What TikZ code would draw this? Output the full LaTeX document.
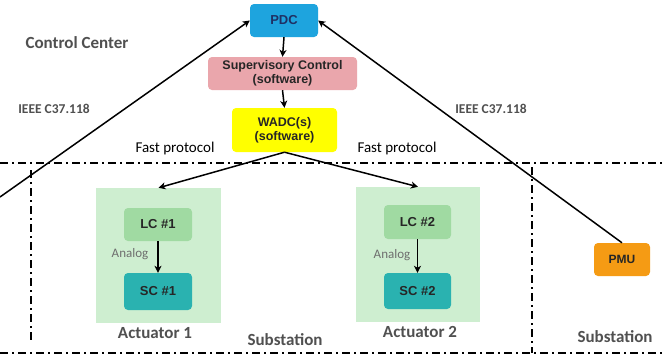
\documentclass[tikz,border=0pt]{standalone}
\usepackage{fontspec}
\setmainfont{Carlito}
\newfontfamily\boxfont{Liberation Sans}
\usetikzlibrary{arrows.meta}
\definecolor{pdcblue}{RGB}{30,164,222}
\definecolor{navy}{RGB}{31,48,100}
\definecolor{suppink}{RGB}{234,166,172}
\definecolor{wadcyel}{RGB}{255,255,0}
\definecolor{actbg}{RGB}{206,238,208}
\definecolor{lcgreen}{RGB}{160,218,162}
\definecolor{scteal}{RGB}{42,178,176}
\definecolor{pmuorange}{RGB}{245,155,20}
\definecolor{labgray}{RGB}{80,80,80}
\definecolor{anagray}{RGB}{110,110,110}
\tikzset{
  boxstyle/.style={rounded corners=4pt, inner sep=0pt, align=center, font=\boxfont\bfseries\fontsize{13}{14}\selectfont, text=black!85},
  conn/.style={line width=1.5pt, -{Stealth[length=7pt,width=7pt,inset=2pt]}},
  dashdot/.style={line width=1.4pt, dash pattern=on 8pt off 4pt on 2pt off 4pt},
  graylab/.style={font=\bfseries\fontsize{17}{19}\selectfont, text=labgray},
  ieee/.style={font=\bfseries\fontsize{13.5}{15}\selectfont, text=labgray},
  fastp/.style={font=\fontsize{15}{17}\selectfont, text=black},
  analog/.style={font=\fontsize{13}{15}\selectfont, text=anagray}
}
\begin{document}
\begin{tikzpicture}[x=1pt,y=-1pt]
\useasboundingbox (0,0) rectangle (666,360);
\fill[white] (0,0) rectangle (666,360);
% frame lines
\coordinate (tl) at (0,163); \coordinate (tr) at (666,163);
\coordinate (bl) at (0,353); \coordinate (br) at (666,353);
\coordinate (v1t) at (31,170); \coordinate (v1b) at (31,340);
\coordinate (v2t) at (532,167); \coordinate (v2b) at (532,353);
\draw[dashdot] (tl) -- (tr);
\draw[dashdot] (bl) -- (br);
\draw[dashdot] (v1t) -- (v1b);
\draw[dashdot] (v2t) -- (v2b);
% boxes
\node[boxstyle, fill=pdcblue, text=navy, minimum width=68pt, minimum height=33pt] (pdc) at (284,20.5) {PDC};
\node[boxstyle, fill=suppink, minimum width=149pt, minimum height=33pt, font=\boxfont\bfseries\fontsize{12.5}{14}\selectfont] (sup) at (282.5,73.5) {Supervisory Control\\(software)};
\node[boxstyle, fill=wadcyel, minimum width=105pt, minimum height=44pt, font=\boxfont\bfseries\fontsize{12.5}{14}\selectfont] (wadc) at (284.5,130) {WADC(s)\\(software)};
\node[fill=actbg, inner sep=0pt, minimum width=125pt, minimum height=135pt] (act1) at (158.5,255.5) {};
\node[fill=actbg, inner sep=0pt, minimum width=124pt, minimum height=135pt] (act2) at (418,254.5) {};
\node[boxstyle, fill=lcgreen, minimum width=68pt, minimum height=33pt] (lc1) at (158,224.5) {LC \#1};
\node[boxstyle, fill=scteal, minimum width=68pt, minimum height=37pt] (sc1) at (158,291.5) {SC \#1};
\node[boxstyle, fill=lcgreen, minimum width=67pt, minimum height=34pt] (lc2) at (417.5,222) {LC \#2};
\node[boxstyle, fill=scteal, minimum width=67pt, minimum height=36pt] (sc2) at (417.5,291) {SC \#2};
\node[boxstyle, fill=pmuorange, minimum width=56pt, minimum height=33pt, font=\boxfont\bfseries\fontsize{12}{13}\selectfont] (pmu) at (622,259.5) {PMU};
% connectors
\draw[conn] (pdc.south) -- (sup.north);
\draw[conn] (sup.south) -- (wadc.north);
\draw[conn] (wadc.south) -- (act1.north);
\draw[conn] (wadc.south) -- (act2.north);
\draw[conn] (lc1.south) -- (sc1.north);
\draw[conn] (lc2.south) -- (sc2.north);
\coordinate (lfree) at (0,197);
\draw[conn] (lfree) -- (pdc.west);
\draw[conn] (pmu.north) -- (pdc.east);
% labels
\node[graylab] (cc) at (77,43) {Control Center};
\node[ieee] (ieeel) at (54,109) {IEEE C37.118};
\node[ieee] (ieeer) at (491,109) {IEEE C37.118};
\node[fastp] (fpl) at (175,148) {Fast protocol};
\node[fastp] (fpr) at (397,148) {Fast protocol};
\node[analog] (an1) at (130,254) {Analog};
\node[analog] (an2) at (392,255) {Analog};
\node[graylab] (a1) at (155,333) {Actuator 1};
\node[graylab] (a2) at (420,332) {Actuator 2};
\node[graylab] (s1) at (285,340) {Substation};
\node[graylab] (s2) at (615,337) {Substation};
\end{tikzpicture}
\end{document}
